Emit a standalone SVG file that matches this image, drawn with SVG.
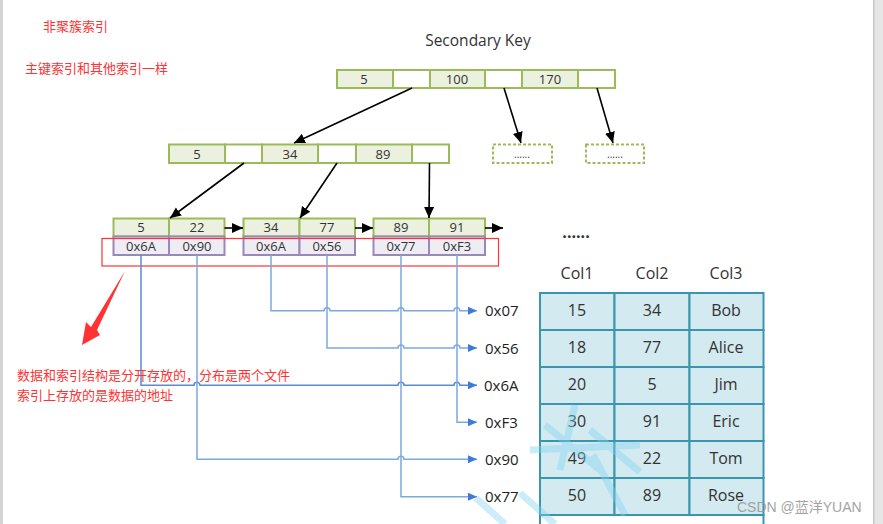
<svg xmlns="http://www.w3.org/2000/svg" width="883" height="524" viewBox="0 0 883 524">
<style>
.t{font-family:"Open Sans","Noto Sans","Liberation Sans",sans-serif;fill:#333;text-anchor:middle}
.k{fill:#EBF1DE;stroke:#9BBB59;stroke-width:2}
.e{fill:#fff;stroke:#9BBB59;stroke-width:2}
.p{fill:#EFEDF4;stroke:#9A88B8;stroke-width:2}
.d{fill:none;stroke:#9BBB59;stroke-width:2;stroke-dasharray:3 2}
.c{fill:#D3EAF0;stroke:#3A95AE;stroke-width:2}
.red{font-family:"Noto Sans CJK SC","Noto Sans",sans-serif;fill:#FF3333;font-size:13px}
.ba{fill:none;stroke:#000;stroke-width:1.6;marker-end:url(#ah)}
.bl{fill:none;stroke:#7EA8E2;stroke-width:1.5;marker-end:url(#bh)}
.lbl{font-family:"Open Sans","Noto Sans","Liberation Sans",sans-serif;fill:#222;font-size:15px}
</style>
<defs>
<marker id="ah" markerUnits="userSpaceOnUse" markerWidth="12" markerHeight="12" refX="11" refY="6" orient="auto"><path d="M0,1 L11,6 L0,11 Z" fill="#000"/></marker>
<marker id="bh" markerUnits="userSpaceOnUse" markerWidth="10" markerHeight="10" refX="9" refY="5" orient="auto"><path d="M0,1 L9,5 L0,9 Z" fill="#3D7BD9"/></marker>
</defs>
<rect x="0" y="0" width="883" height="524" fill="#fff"/>
<rect x="0" y="0" width="3" height="524" fill="#d4d4d4"/>
<rect x="873" y="0" width="10" height="524" fill="#e6e6e6"/>
<rect x="873" y="0" width="1.5" height="524" fill="#c8c8c8"/>

<text class="red" x="43" y="31">非聚簇索引</text>
<text class="red" x="25" y="73">主键索引和其他索引一样</text>

<text class="t" x="478" y="46" font-size="15.5">Secondary Key</text>

<g id="root">
<rect class="k" x="337" y="70" width="56" height="18"/>
<rect class="e" x="393" y="70" width="37" height="18"/>
<rect class="k" x="430" y="70" width="55" height="18"/>
<rect class="e" x="485" y="70" width="37" height="18"/>
<rect class="k" x="522" y="70" width="56" height="18"/>
<rect class="e" x="578" y="70" width="37" height="18"/>
<text class="t" x="364" y="83.5" font-size="13">5</text>
<text class="t" x="457" y="83.5" font-size="13">100</text>
<text class="t" x="550" y="83.5" font-size="13">170</text>
</g>

<g id="inner">
<rect class="k" x="169" y="144.5" width="56" height="18.5"/>
<rect class="e" x="225" y="144.5" width="37" height="18.5"/>
<rect class="k" x="262" y="144.5" width="56" height="18.5"/>
<rect class="e" x="318" y="144.5" width="38" height="18.5"/>
<rect class="k" x="356" y="144.5" width="56" height="18.5"/>
<rect class="e" x="412" y="144.5" width="37" height="18.5"/>
<text class="t" x="197" y="158.5" font-size="13">5</text>
<text class="t" x="290" y="158.5" font-size="13">34</text>
<text class="t" x="383" y="158.5" font-size="13">89</text>
</g>

<g id="more1">
<rect class="d" x="493" y="144.5" width="59" height="18.5"/>
<text class="t" x="522" y="158" font-size="10">......</text>
</g>
<g id="more2">
<rect class="d" x="586" y="144.5" width="58" height="18.5"/>
<text class="t" x="615" y="158" font-size="10">......</text>
</g>

<g id="leaf1">
<rect class="k" x="113.5" y="218.5" width="55.5" height="18"/>
<rect class="k" x="169" y="218.5" width="55.5" height="18"/>
<rect class="p" x="113.5" y="236.5" width="55.5" height="18.5"/>
<rect class="p" x="169" y="236.5" width="55.5" height="18.5"/>
<text class="t" x="141" y="232" font-size="13">5</text>
<text class="t" x="197" y="232" font-size="13">22</text>
<text class="t" x="141" y="250.5" font-size="13">0x6A</text>
<text class="t" x="197" y="250.5" font-size="13">0x90</text>
</g>
<g id="leaf2">
<rect class="k" x="243.5" y="218.5" width="56" height="18"/>
<rect class="k" x="299.5" y="218.5" width="55.5" height="18"/>
<rect class="p" x="243.5" y="236.5" width="56" height="18.5"/>
<rect class="p" x="299.5" y="236.5" width="55.5" height="18.5"/>
<text class="t" x="271" y="232" font-size="13">34</text>
<text class="t" x="327" y="232" font-size="13">77</text>
<text class="t" x="271" y="250.5" font-size="13">0x6A</text>
<text class="t" x="327" y="250.5" font-size="13">0x56</text>
</g>
<g id="leaf3">
<rect class="k" x="373.5" y="218.5" width="55.5" height="18"/>
<rect class="k" x="429" y="218.5" width="56" height="18"/>
<rect class="p" x="373.5" y="236.5" width="55.5" height="18.5"/>
<rect class="p" x="429" y="236.5" width="56" height="18.5"/>
<text class="t" x="401" y="232" font-size="13">89</text>
<text class="t" x="457" y="232" font-size="13">91</text>
<text class="t" x="401" y="250.5" font-size="13">0x77</text>
<text class="t" x="457" y="250.5" font-size="13">0xF3</text>
</g>

<rect x="102" y="238.5" width="396.5" height="27.5" fill="none" stroke="#FF3333" stroke-width="1.2"/>

<g id="connectors">
<path class="ba" d="M412,88 L294,143"/>
<path class="ba" d="M504,88 L521,143"/>
<path class="ba" d="M597,88 L613,143"/>
<path class="ba" d="M244,163 L170,218"/>
<path class="ba" d="M337,163 L300,218"/>
<path class="ba" d="M429.5,163 L429,218"/>
<path class="ba" d="M224.5,228 L243,228"/>
<path class="ba" d="M355,228 L373,228"/>
<path class="ba" d="M485,228 L503,228"/>

<path class="bl" d="M271,255 V310.7 H324 A3,3 0 0 1 330,310.7 H398 A3,3 0 0 1 404,310.7 H454 A3,3 0 0 1 460,310.7 H477"/>
<path class="bl" d="M327,255 V348 H398 A3,3 0 0 1 404,348 H454 A3,3 0 0 1 460,348 H477"/>
<path class="bl" d="M141,255 V385.3 H194 A3,3 0 0 1 200,385.3 H398 A3,3 0 0 1 404,385.3 H454 A3,3 0 0 1 460,385.3 H477" style="stroke:#5A8AD6"/>
<path class="bl" d="M457,255 V422.3 H477"/>
<path class="bl" d="M197,255 V459.3 H398 A3,3 0 0 1 404,459.3 H477"/>
<path class="bl" d="M401,255 V496.7 H477"/>
</g>

<g id="addresses">
<text class="lbl" x="485" y="316">0x07</text>
<text class="lbl" x="485" y="353.5">0x56</text>
<text class="lbl" x="484" y="390.5">0x6A</text>
<text class="lbl" x="485" y="427.5">0xF3</text>
<text class="lbl" x="485" y="464.5">0x90</text>
<text class="lbl" x="485" y="502">0x77</text>
</g>

<text class="t" x="576" y="238" font-size="16" font-weight="bold">......</text>

<g id="table">
<text class="t" x="577" y="279" font-size="16" fill="#222">Col1</text>
<text class="t" x="652" y="279" font-size="16">Col2</text>
<text class="t" x="726" y="279" font-size="16">Col3</text>
<g>
<rect class="c" x="540" y="293" width="74.5" height="37"/><rect class="c" x="614.5" y="293" width="75" height="37"/><rect class="c" x="689.5" y="293" width="74" height="37"/>
<rect class="c" x="540" y="330" width="74.5" height="37"/><rect class="c" x="614.5" y="330" width="75" height="37"/><rect class="c" x="689.5" y="330" width="74" height="37"/>
<rect class="c" x="540" y="367" width="74.5" height="37"/><rect class="c" x="614.5" y="367" width="75" height="37"/><rect class="c" x="689.5" y="367" width="74" height="37"/>
<rect class="c" x="540" y="404" width="74.5" height="37"/><rect class="c" x="614.5" y="404" width="75" height="37"/><rect class="c" x="689.5" y="404" width="74" height="37"/>
<rect class="c" x="540" y="441" width="74.5" height="37"/><rect class="c" x="614.5" y="441" width="75" height="37"/><rect class="c" x="689.5" y="441" width="74" height="37"/>
<rect class="c" x="540" y="478" width="74.5" height="37"/><rect class="c" x="614.5" y="478" width="75" height="37"/><rect class="c" x="689.5" y="478" width="74" height="37"/>
<rect x="540" y="515" width="223.5" height="20" fill="#fff" stroke="#3A95AE" stroke-width="2"/>
</g>
<g font-size="16">
<text class="t" x="577" y="316">15</text><text class="t" x="652" y="316">34</text><text class="t" x="726" y="316">Bob</text>
<text class="t" x="577" y="353">18</text><text class="t" x="652" y="353">77</text><text class="t" x="726" y="353">Alice</text>
<text class="t" x="577" y="390">20</text><text class="t" x="652" y="390">5</text><text class="t" x="726" y="390">Jim</text>
<text class="t" x="577" y="427">30</text><text class="t" x="652" y="427">91</text><text class="t" x="726" y="427">Eric</text>
<text class="t" x="577" y="464">49</text><text class="t" x="652" y="464">22</text><text class="t" x="726" y="464">Tom</text>
<text class="t" x="577" y="501">50</text><text class="t" x="652" y="501">89</text><text class="t" x="726" y="501">Rose</text>
</g>
</g>

<g fill="none" stroke="#7FD3F0" stroke-width="7" opacity="0.4" stroke-linecap="butt">
<path d="M476,498 L505,524"/>
<path d="M520,493 L555,524"/>
<path d="M545,425 L600,470"/>
<path d="M590,430 L640,472"/>
<path d="M530,450 L640,445"/>
<path d="M575,405 L560,470"/>
<path d="M593,455 L625,515"/>
</g>

<path d="M125,271 L97,330 L100,335 L82,345 L86,322 L91,327 Z" fill="#FF3333"/>
<text class="red" x="17" y="380">数据和索引结构是分开存放的，分布是两个文件</text>
<text class="red" x="17" y="400">索引上存放的是数据的地址</text>

<text x="737" y="512" font-family="'Liberation Sans','Noto Sans CJK SC',sans-serif" font-size="14" fill="#9a9a9a" opacity="0.9">CSDN @蓝洋YUAN</text>
</svg>
